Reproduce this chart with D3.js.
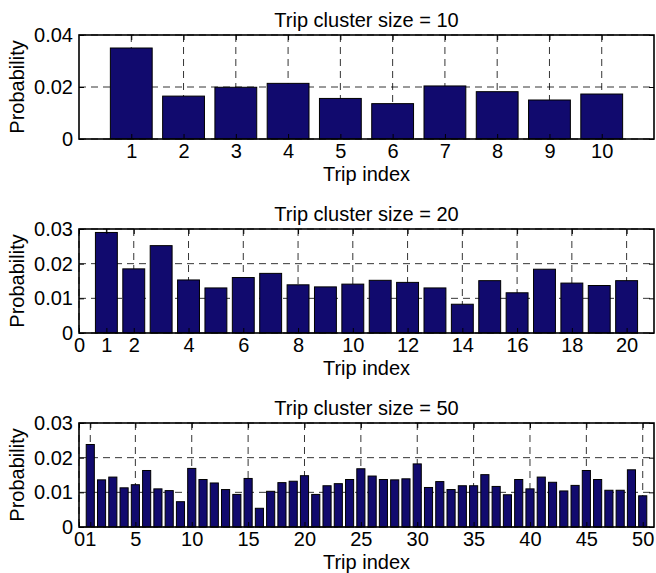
<!DOCTYPE html>
<html>
<head>
<meta charset="utf-8">
<script src="https://cdn.jsdelivr.net/npm/d3@7"></script>
<style>
  body { margin: 0; background: #fff; }
  text { font-family: "Liberation Sans", Arial, sans-serif; }
</style>
</head>
<body>
<div id="drawing"></div>
<script>

// values
var titles = ["Trip cluster size = 10", "Trip cluster size = 20", "Trip cluster size = 50"];

var probs10 = [0.0350, 0.0165, 0.0199, 0.0214, 0.0156, 0.0136, 0.0204, 0.0182, 0.0150, 0.0173];

var probs20 = [0.0290, 0.0185, 0.0252, 0.0153, 0.0130, 0.0160, 0.0172, 0.0139, 0.0133, 0.0141,
               0.0152, 0.0146, 0.0130, 0.0083, 0.0151, 0.0116, 0.0184, 0.0144, 0.0137, 0.0151];

var probs50 = [0.0238, 0.0136, 0.0144, 0.0113, 0.0122, 0.0163, 0.0110, 0.0105, 0.0073, 0.0169,
               0.0137, 0.0127, 0.0108, 0.0094, 0.0140, 0.0054, 0.0103, 0.0128, 0.0132, 0.0148,
               0.0094, 0.0119, 0.0125, 0.0137, 0.0168, 0.0147, 0.0137, 0.0136, 0.0139, 0.0182,
               0.0114, 0.0131, 0.0108, 0.0119, 0.0119, 0.0151, 0.0117, 0.0093, 0.0137, 0.0110,
               0.0144, 0.0129, 0.0104, 0.0120, 0.0163, 0.0137, 0.0106, 0.0106, 0.0165, 0.0090];

var xticks10 = [1, 2, 3, 4, 5, 6, 7, 8, 9, 10];
var xticks20 = [0, 1, 2, 4, 6, 8, 10, 12, 14, 16, 18, 20];
var xticks50 = [0, 1, 5, 10, 15, 20, 25, 30, 35, 40, 45, 50];

var yticks10 = [0, 0.02, 0.04];
var yticks20 = [0, 0.01, 0.02, 0.03];
var yticks50 = [0, 0.01, 0.02, 0.03];

var W = 656, H = 573;
var left = 79, right = 654;
var tops = [35, 229, 423];
var ph = 104;
var barColor = "#110a6e";
var fs = 20;

var svg = d3.select("#drawing")
  .append("svg")
  .attr("width", W)
  .attr("height", H);

function fmt(v) {
  return v === 0 ? "0" : d3.format(".2f")(v);
}

function panel(k, vals, xt, yt, bw) {
  var n = vals.length;
  var top = tops[k];
  var x = d3.scaleLinear().domain([0, n + 1]).range([left, right]);
  var y = d3.scaleLinear().domain([0, yt[yt.length - 1]]).range([top + ph, top]);
  var g = svg.append("g");

  // dashed grid, behind bars
  g.selectAll(".vg").data(xt).enter().append("line")
    .attr("x1", function(d) { return x(d); })
    .attr("x2", function(d) { return x(d); })
    .attr("y1", top).attr("y2", top + ph)
    .attr("stroke", "#000").attr("stroke-width", 0.8)
    .attr("stroke-dasharray", "7,5");
  g.selectAll(".hg").data(yt).enter().append("line")
    .attr("x1", left).attr("x2", right)
    .attr("y1", function(d) { return y(d); })
    .attr("y2", function(d) { return y(d); })
    .attr("stroke", "#000").attr("stroke-width", 0.8)
    .attr("stroke-dasharray", "7,5");

  var step = x(1) - x(0);
  g.selectAll(".bar").data(vals).enter().append("rect")
    .attr("x", function(d, i) { return x(i + 1) - bw * step / 2; })
    .attr("width", bw * step)
    .attr("y", function(d) { return y(d); })
    .attr("height", function(d) { return y(0) - y(d); })
    .attr("fill", barColor)
    .attr("stroke", "#000")
    .attr("stroke-width", 1);

  // axes with inward ticks
  var ax = g.append("g").attr("transform", "translate(0," + (top + ph) + ")")
    .call(d3.axisBottom(x).tickValues(xt).tickFormat(d3.format("d"))
      .tickSizeInner(-5).tickSizeOuter(0).tickPadding(5));
  var at = g.append("g").attr("transform", "translate(0," + top + ")")
    .call(d3.axisTop(x).tickValues(xt).tickFormat("")
      .tickSizeInner(-5).tickSizeOuter(0));
  var ay = g.append("g").attr("transform", "translate(" + left + ",0)")
    .call(d3.axisLeft(y).tickValues(yt).tickFormat(fmt)
      .tickSizeInner(-5).tickSizeOuter(0).tickPadding(6));
  var ar = g.append("g").attr("transform", "translate(" + right + ",0)")
    .call(d3.axisRight(y).tickValues(yt).tickFormat("")
      .tickSizeInner(-5).tickSizeOuter(0));

  [ax, at, ay, ar].forEach(function(a) {
    a.select(".domain").remove();
    a.selectAll("line").attr("stroke", "#000");
    a.selectAll("text").attr("fill", "#000")
      .style("font-family", "'Liberation Sans', Arial, sans-serif")
      .style("font-size", fs + "px");
  });

  g.append("rect")
    .attr("x", left).attr("y", top)
    .attr("width", right - left).attr("height", ph)
    .attr("fill", "none").attr("stroke", "#000").attr("stroke-width", 1.6);

  g.append("text")
    .attr("x", (left + right) / 2).attr("y", top - 8)
    .attr("text-anchor", "middle").style("font-size", fs + "px")
    .text(titles[k]);
  g.append("text")
    .attr("x", (left + right) / 2).attr("y", top + ph + 42)
    .attr("text-anchor", "middle").style("font-size", fs + "px")
    .text("Trip index");
  g.append("text")
    .attr("transform", "translate(24," + (top + ph / 2) + ") rotate(-90)")
    .attr("text-anchor", "middle").style("font-size", fs + "px")
    .text("Probability");
}

panel(0, probs10, xticks10, yticks10, 0.8);
panel(1, probs20, xticks20, yticks20, 0.8);
panel(2, probs50, xticks50, yticks50, 0.72);

</script>
</body>
</html>
